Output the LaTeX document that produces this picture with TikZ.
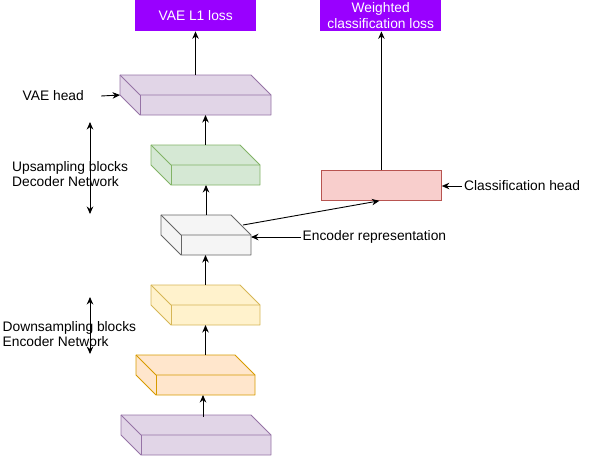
\documentclass[tikz,border=0pt]{standalone}
\usepackage{fontspec}
\setmainfont{Liberation Sans}
\usetikzlibrary{arrows.meta,calc}
\definecolor{lossfill}{RGB}{153,0,255}
\definecolor{purF}{HTML}{E1D5E7}\definecolor{purS}{HTML}{9673A6}
\definecolor{grnF}{HTML}{D5E8D4}\definecolor{grnS}{HTML}{82B366}
\definecolor{gryF}{HTML}{F5F5F5}\definecolor{gryS}{HTML}{666666}
\definecolor{ylwF}{HTML}{FFF2CC}\definecolor{ylwS}{HTML}{D6B656}
\definecolor{orgF}{HTML}{FFE6CC}\definecolor{orgS}{HTML}{D79B00}
\definecolor{pnkF}{HTML}{F8CECC}\definecolor{pnkS}{HTML}{B85450}
\tikzset{
  arr/.style={-{Stealth[length=7.5pt,width=6.5pt]},line width=0.9pt},
  dbl/.style={{Stealth[length=7.5pt,width=6.5pt]}-{Stealth[length=7.5pt,width=6.5pt]},line width=0.9pt},
  lbl/.style={inner sep=0pt,font=\fontsize{13.8}{15}\selectfont,align=left},
  lossbox/.style={fill=lossfill,text=white,inner sep=0pt,font=\fontsize{13.8}{16.5}\selectfont,align=center,minimum width=121pt,minimum height=31pt,anchor=north west},
  cubeline/.style={line width=0.8pt,line join=round},
}
\newcommand\mycuboid[5]{%
  \node[inner sep=0pt,outer sep=0pt,minimum width=#4pt,minimum height=40pt,anchor=north west] (#1) at (#2,#3) {};
  \draw[cubeline,draw=#5S,fill=#5F] (#1.north west) -- ([xshift=-20pt]#1.north east) -- ([yshift=-20pt]#1.north east) -- (#1.south east) -- ([xshift=20pt]#1.south west) -- ([yshift=20pt]#1.south west) -- cycle;
  \draw[cubeline,draw=#5S] (#1.north west) -- ([xshift=20pt,yshift=-20pt]#1.north west) -- ([yshift=-20pt]#1.north east);
  \draw[cubeline,draw=#5S] ([xshift=20pt,yshift=-20pt]#1.north west) -- ([xshift=20pt]#1.south west);
}
\begin{document}
\begin{tikzpicture}[x=1pt,y=-1pt]
\useasboundingbox (0,0) rectangle (593,456);
% loss boxes
\node[lossbox] (vaeloss) at (135,0) {VAE L1 loss};
\node[lossbox] (wloss) at (320,0) {Weighted\\classification loss};
% cuboids
\mycuboid{vaehead}{120}{75}{151}{pur}
\mycuboid{green}{151}{145}{109}{grn}
\mycuboid{gray}{161}{215}{90}{gry}
\mycuboid{yellow}{151}{285}{109}{ylw}
\mycuboid{orange}{136}{355}{119}{org}
\mycuboid{inp}{121}{415}{150}{pur}
% classification head
\node[draw=pnkS,fill=pnkF,line width=0.8pt,minimum width=120pt,minimum height=30pt,inner sep=0pt,anchor=north west] (classhead) at (321,170) {};
% main arrows
\draw[arr] ([xshift=7pt,yshift=-2pt]inp.north) -- ([xshift=7.5pt]orange.south);
\draw[arr] ([xshift=10pt]orange.north) -- (yellow.south);
\draw[arr] (yellow.north) -- (yellow.north |- gray.south);
\draw[arr] (gray.north) -- (gray.north |- green.south);
\draw[arr] (green.north) -- (green.north |- vaehead.south);
\draw[arr] (vaehead.north) -- (vaehead.north |- vaeloss.south);
\draw[arr] (classhead.north) -- (classhead.north |- wloss.south);
\draw[arr] ([xshift=-8pt,yshift=-10pt]gray.north east) -- ([xshift=-2pt]classhead.south);
% labels
\node[lbl,anchor=west] (vaelbl) at (22.5,96) {VAE head};
\draw[arr] ([xshift=17pt]vaelbl.east) -- (vaehead.west);
\node[lbl,anchor=west] (enclbl) at (302.5,237) {Encoder representation};
\draw[arr] ([xshift=-2pt]enclbl.west) -- (enclbl.west -| gray.east);
\node[lbl,anchor=west] (clslbl) at (464,186) {Classification head};
\draw[arr] ([xshift=-2pt]clslbl.west) -- (clslbl.west -| classhead.east);
\node[lbl,anchor=west] (uplbl) at (12,174.5) {Upsampling blocks\\Decoder Network};
\node[lbl,anchor=west] (downlbl) at (2.5,334) {Downsampling blocks\\Encoder Network};
\coordinate (u1) at (90,122);
\coordinate (u2) at (90,214);
\coordinate (d1) at (90,297);
\coordinate (d2) at (90,354);
\draw[dbl] (u1) -- (u2);
\draw[dbl] (d1) -- (d2);
\end{tikzpicture}
\end{document}
